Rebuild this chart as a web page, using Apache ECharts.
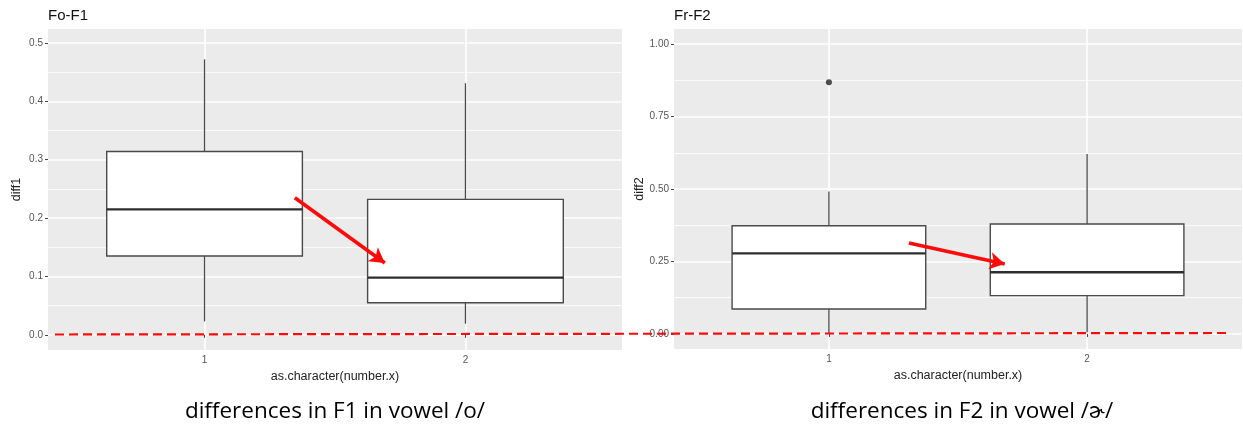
<!DOCTYPE html>
<html>
<head>
<meta charset="utf-8">
<script src="https://cdn.jsdelivr.net/npm/echarts@6/dist/echarts.min.js"></script>
<style>
html,body{margin:0;padding:0;background:#fff;}
#chart{width:1243px;height:432px;}
</style>
</head>
<body>
<div id="chart"></div>
<script>
// ---- data ----
const categories = ['1', '2'];
// [min, q1, median, q3, max]
const f1Stats = [[0.023, 0.135, 0.215, 0.314, 0.472], [0.019, 0.055, 0.098, 0.232, 0.431]];
const f2Stats = [[0.002, 0.086, 0.278, 0.373, 0.491], [0.006, 0.132, 0.213, 0.379, 0.621]];
const f2Outliers = [[1, 0.868]];
const f1Ticks = [0, 0.1, 0.2, 0.3, 0.4, 0.5];
const f1Minor = [0.05, 0.15, 0.25, 0.35, 0.45];
const f2Ticks = [0, 0.25, 0.5, 0.75, 1.0];
const f2Minor = [0.125, 0.375, 0.625, 0.875];
const f1Arrow = [[1.346, 0.235], [1.691, 0.123]];
const f2Arrow = [[1.31, 0.314], [1.681, 0.241]];
const titles = ['Fo-F1', 'Fr-F2'];
const yNames = ['diff1', 'diff2'];
const xName = 'as.character(number.x)';
const captions = ['differences in F1 in vowel /o/', 'differences in F2 in vowel /ɚ/'];

const FONT = 'Liberation Sans, Arial, sans-serif';
const CAPFONT = '22.5px "Open Sans", Lato, sans-serif';
const catVals = categories.map(Number);

function boxData(stats) {
  return stats.map((s, i) => [catVals[i]].concat(s));
}

function renderBox(params, api) {
  const x = api.value(0);
  const lo = api.coord([x, api.value(1)]);
  const q1 = api.coord([x, api.value(2)]);
  const med = api.coord([x, api.value(3)]);
  const q3 = api.coord([x, api.value(4)]);
  const hi = api.coord([x, api.value(5)]);
  const w = api.size([0.75, 0])[0];
  const h = w / 2;
  const ws = {stroke: '#4a4a4a', lineWidth: 1.3};
  return {
    type: 'group',
    children: [
      {type: 'line', shape: {x1: hi[0], y1: hi[1], x2: q3[0], y2: q3[1]}, style: ws},
      {type: 'line', shape: {x1: q1[0], y1: q1[1], x2: lo[0], y2: lo[1]}, style: ws},
      {type: 'rect', shape: {x: q3[0] - h, y: q3[1], width: w, height: q1[1] - q3[1]},
        style: {fill: '#ffffff', stroke: '#4a4a4a', lineWidth: 1.4}},
      {type: 'line', shape: {x1: med[0] - h, y1: med[1], x2: med[0] + h, y2: med[1]},
        style: {stroke: '#2e2e2e', lineWidth: 2.4}}
    ]
  };
}

const grids = [
  {left: 48, top: 29, width: 574, height: 321},
  {left: 674, top: 29, width: 568, height: 320}
];
const yRanges = [[-0.026, 0.524], [-0.052, 1.052]];
const yMajors = [f1Ticks, f2Ticks];
const yMinors = [f1Minor, f2Minor];
const yFmt = [v => v.toFixed(1), v => v.toFixed(2)];

const xAxes = [], yAxes = [];
for (let g = 0; g < 2; g++) {
  xAxes.push({
    type: 'value', gridIndex: g, min: 0.4, max: 2.6,
    name: xName, nameLocation: 'middle', nameGap: 19,
    nameTextStyle: {fontFamily: FONT, fontSize: 12.5, color: '#222'},
    axisLine: {show: false},
    axisTick: {show: true, length: 3, customValues: catVals, lineStyle: {color: '#444'}},
    axisLabel: {customValues: catVals, formatter: v => String(v), fontFamily: FONT, fontSize: 10, color: '#555', margin: 5},
    splitLine: {show: true, lineStyle: {color: '#ffffff', width: 1.6}}
  });
  yAxes.push({
    type: 'value', gridIndex: g, min: yRanges[g][0], max: yRanges[g][1], position: 'left',
    name: yNames[g], nameLocation: 'middle', nameGap: 25,
    nameTextStyle: {fontFamily: FONT, fontSize: 12.5, color: '#222'},
    axisLine: {show: false},
    axisTick: {show: true, length: 3, customValues: yMajors[g], lineStyle: {color: '#444'}},
    axisLabel: {customValues: yMajors[g], formatter: yFmt[g], fontFamily: FONT, fontSize: 10, color: '#555', margin: 5},
    splitLine: {show: true, lineStyle: {color: '#ffffff', width: 1.6}}
  });
}
for (let g = 0; g < 2; g++) {
  yAxes.push({
    type: 'value', gridIndex: g, min: yRanges[g][0], max: yRanges[g][1], position: 'left',
    axisLine: {show: false},
    axisTick: {show: false, customValues: yMinors[g]},
    axisLabel: {show: false, customValues: yMinors[g]},
    splitLine: {show: true, lineStyle: {color: '#ffffff', width: 0.8}}
  });
}

function arrowMark(pts) {
  return {
    silent: true,
    symbol: ['none', 'arrow'],
    symbolSize: [13, 15],
    label: {show: false},
    lineStyle: {color: '#ff0a0a', width: 3.6, type: 'solid'},
    data: [[{coord: pts[0]}, {coord: pts[1]}]]
  };
}

const chart = echarts.init(document.getElementById('chart'));
chart.setOption({
  animation: false,
  backgroundColor: '#ffffff',
  grid: grids.map(g => Object.assign({show: true, backgroundColor: '#ebebeb', borderWidth: 0, containLabel: false}, g)),
  xAxis: xAxes,
  yAxis: yAxes,
  series: [
    {type: 'custom', xAxisIndex: 0, yAxisIndex: 0, data: boxData(f1Stats), renderItem: renderBox,
      encode: {x: 0, y: [1, 2, 3, 4, 5]}, markLine: arrowMark(f1Arrow), z: 3},
    {type: 'custom', xAxisIndex: 1, yAxisIndex: 1, data: boxData(f2Stats), renderItem: renderBox,
      encode: {x: 0, y: [1, 2, 3, 4, 5]}, markLine: arrowMark(f2Arrow), z: 3},
    {type: 'scatter', xAxisIndex: 1, yAxisIndex: 1, data: f2Outliers, symbolSize: 6,
      itemStyle: {color: '#222'}, z: 4}
  ],
  graphic: [
    {type: 'text', x: 48, y: 16, style: {text: titles[0], font: '15px ' + FONT, fill: '#111', textVerticalAlign: 'middle'}},
    {type: 'text', x: 674, y: 16, style: {text: titles[1], font: '15px ' + FONT, fill: '#111', textVerticalAlign: 'middle'}},
    {type: 'text', x: 335, y: 412, style: {text: captions[0], font: CAPFONT, fill: '#000', textAlign: 'center', textVerticalAlign: 'middle'}},
    {type: 'text', x: 962, y: 412, style: {text: captions[1], font: CAPFONT, fill: '#000', textAlign: 'center', textVerticalAlign: 'middle'}},
    {type: 'line', z: 100, shape: {x1: 55, y1: 334.5, x2: 1230, y2: 333},
      style: {stroke: '#ff0a0a', lineWidth: 2.2, lineDash: [9, 5]}}
  ]
});
</script>
</body>
</html>
